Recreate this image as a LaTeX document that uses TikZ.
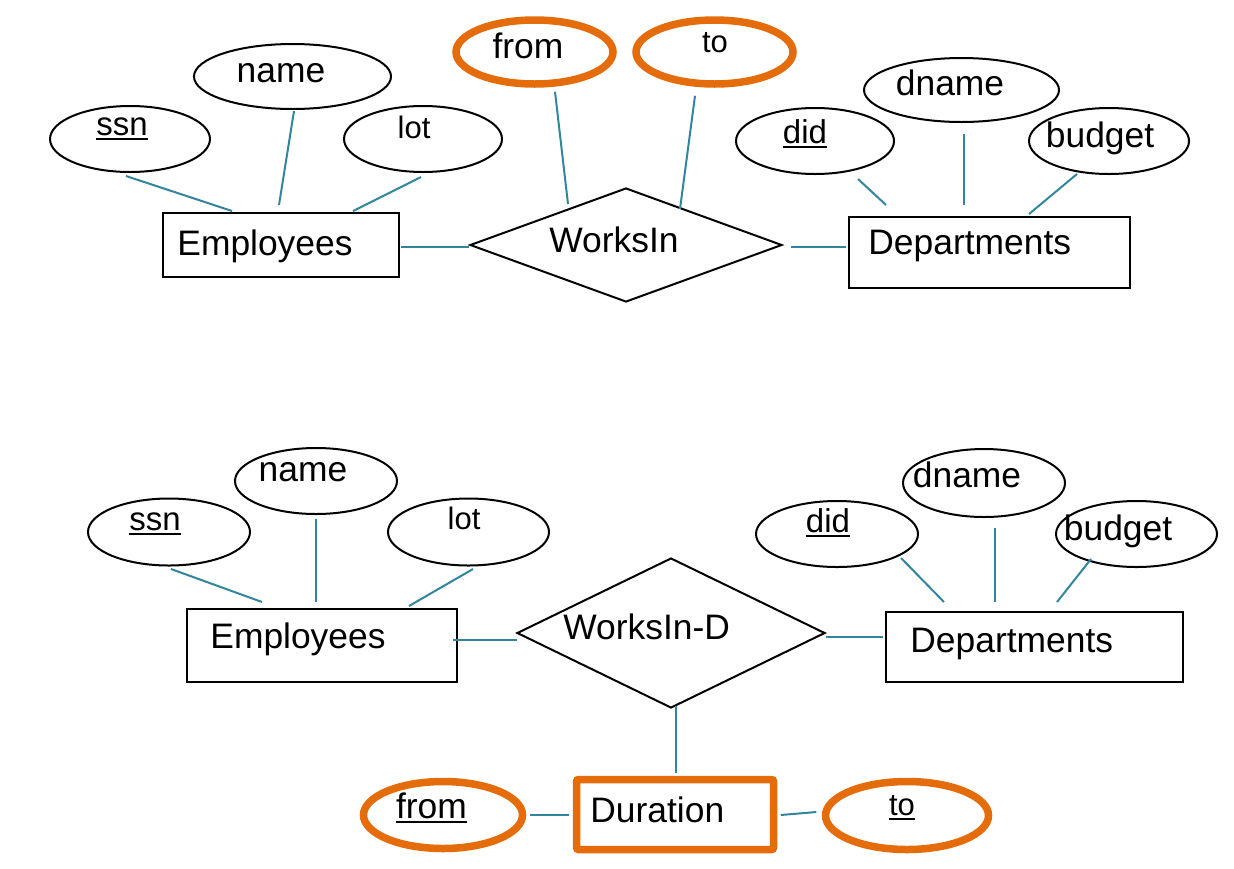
\documentclass[tikz,border=0pt]{standalone}
\usepackage{fontspec}
\setmainfont{Liberation Sans}
\usetikzlibrary{shapes.geometric}
\definecolor{linkc}{RGB}{49,133,156}
\definecolor{orng}{RGB}{228,108,10}
\newcommand{\ulkey}[1]{\setbox0\hbox{#1}\rlap{\rule[-2.25pt]{\wd0}{1pt}}\box0}
\begin{document}
\begin{tikzpicture}[x=0.5pt,y=-0.5pt,
  attr/.style={draw=black, line width=1pt, ellipse, inner sep=0pt},
  hlattr/.style={draw=orng, line width=3.75pt, ellipse, inner sep=0pt},
  ent/.style={draw=black, line width=1pt, rectangle, inner sep=0pt},
  hlent/.style={draw=orng, line width=3.75pt, rectangle, inner sep=0pt, rounded corners=1pt},
  rel/.style={draw=black, line width=1pt, diamond, inner sep=0pt},
  link/.style={draw=linkc, line width=1pt},
  big/.style={inner sep=0pt, font=\fontsize{17.7}{20}\selectfont},
  med/.style={inner sep=0pt, font=\fontsize{16.5}{19}\selectfont},
  sml/.style={inner sep=0pt, font=\fontsize{15.5}{18}\selectfont}]
\useasboundingbox (0,0) rectangle (1234,868);

% ---------- top diagram ----------
\node[attr, minimum width=80pt, minimum height=33pt] (ssn1) at (130,139) {};
\node[attr, minimum width=98.5pt, minimum height=32.5pt] (name1) at (292.5,76.5) {};
\node[attr, minimum width=79pt, minimum height=33pt] (lot1) at (423,139) {};
\node[hlattr, minimum width=78.5pt, minimum height=32pt] (from1) at (534.5,52) {};
\node[hlattr, minimum width=78.5pt, minimum height=32pt] (to1) at (714.5,52) {};
\node[attr, minimum width=79pt, minimum height=33pt] (did1) at (815,141) {};
\node[attr, minimum width=97.5pt, minimum height=32pt] (dname1) at (961.5,90) {};
\node[attr, minimum width=80pt, minimum height=33pt] (budget1) at (1109,141) {};
\node[ent, minimum width=118pt, minimum height=32pt] (emp1) at (281,245) {};
\node[rel, minimum width=156pt, minimum height=57pt] (rel1) at (626,245) {};
\node[ent, minimum width=140.5pt, minimum height=35.5pt] (dep1) at (989.5,252.5) {};

\node[med, anchor=base] (tssn1) at (122,135) {\ulkey{ssn}};
\node[big, anchor=base] (tname1) at (281,82) {name};
\node[sml, anchor=base] (tlot1) at (414,138) {lot};
\node[big, anchor=base] (tfrom1) at (528,58) {from};
\node[sml, anchor=base] (tto1) at (715,52) {to};
\node[med, anchor=base] (tdid1) at (805,143) {\ulkey{did}};
\node[big, anchor=base] (tdname1) at (950,95) {dname};
\node[big, anchor=base] (tbudget1) at (1100,147) {budget};
\node[big, anchor=base west] (temp1) at (177,255) {Employees};
\node[big, anchor=base] (trel1) at (614,252) {WorksIn};
\node[big, anchor=base west] (tdep1) at (868,254) {Departments};

\draw[link] ([shift={(-4,3)}]ssn1.south) -- ([shift={(70,-1)}]emp1.north west);
\draw[link] ([shift={(1.5,1)}]name1.south) -- ([shift={(-2,-7)}]emp1.north);
\draw[link] ([shift={(-2,4)}]lot1.south) -- ([shift={(-47,-1)}]emp1.north east);
\draw[link] ([shift={(1,2)}]emp1.east) -- ([shift={(0,2)}]rel1.west);
\draw[link] ([shift={(20.5,4)}]from1.south) -- ([shift={(-58,17)}]rel1.north);
\draw[link] ([shift={(-19.5,8)}]to1.south) -- ([shift={(54,22)}]rel1.north);
\draw[link] ([shift={(8,2)}]rel1.east) -- ([shift={(-2,-5.5)}]dep1.west);
\draw[link] ([shift={(43,4)}]did1.south) -- ([shift={(38,-11)}]dep1.north west);
\draw[link] ([shift={(2.5,11)}]dname1.south) -- ([shift={(-25.5,-11)}]dep1.north);
\draw[link] ([shift={(-32,-1)}]budget1.south) -- ([shift={(39.5,-2)}]dep1.north);

% ---------- bottom diagram ----------
\node[attr, minimum width=81pt, minimum height=33.5pt] (ssn2) at (169,532) {};
\node[attr, minimum width=81pt, minimum height=33pt] (name2) at (316,481) {};
\node[attr, minimum width=80.5pt, minimum height=33.5pt] (lot2) at (468.5,532) {};
\node[attr, minimum width=81pt, minimum height=33pt] (did2) at (837,534) {};
\node[attr, minimum width=81pt, minimum height=34pt] (dname2) at (984,483) {};
\node[attr, minimum width=80.5pt, minimum height=33pt] (budget2) at (1136.5,534) {};
\node[ent, minimum width=135pt, minimum height=36.5pt] (emp2) at (322,645.5) {};
\node[rel, minimum width=154pt, minimum height=75pt] (rel2) at (671,633) {};
\node[ent, minimum width=148.5pt, minimum height=35pt] (dep2) at (1034.5,647) {};
\node[hlent, minimum width=98.5pt, minimum height=35pt] (dur) at (675,814.5) {};
\node[hlattr, minimum width=79.5pt, minimum height=33.5pt] (from2) at (443,815) {};
\node[hlattr, minimum width=81.5pt, minimum height=34pt] (to2) at (907,815.5) {};

\node[med, anchor=base] (tssn2) at (155,530) {\ulkey{ssn}};
\node[big, anchor=base] (tname2) at (303,481) {name};
\node[sml, anchor=base] (tlot2) at (464,529) {lot};
\node[med, anchor=base] (tdid2) at (828,532) {\ulkey{did}};
\node[big, anchor=base] (tdname2) at (967,487) {dname};
\node[big, anchor=base] (tbudget2) at (1118,540) {budget};
\node[big, anchor=base west] (temp2) at (210,648) {Employees};
\node[big, anchor=base west] (trel2) at (563,639) {WorksIn-D};
\node[big, anchor=base west] (tdep2) at (910,652) {Departments};
\node[big, anchor=base west] (tdur) at (590,822) {Duration};
\node[big, anchor=base] (tfrom2) at (431.5,818) {\ulkey{from}};
\node[sml, anchor=base] (tto2) at (902,815) {\ulkey{to}};

\draw[link] ([shift={(2,2.5)}]ssn2.south) -- ([shift={(76,-6)}]emp2.north west);
\draw[link] ([shift={(0,4)}]name2.south) -- ([shift={(-6,-6)}]emp2.north);
\draw[link] ([shift={(4.5,2.5)}]lot2.south) -- ([shift={(-49,-2)}]emp2.north east);
\draw[link] ([shift={(-5,-5.5)}]emp2.east) -- ([shift={(1,7)}]rel2.west);
\draw[link] ([shift={(0,4)}]rel2.east) -- ([shift={(-2,-10)}]dep2.west);
\draw[link] ([shift={(-18,24)}]did2.east) -- ([shift={(59,-9)}]dep2.north west);
\draw[link] ([shift={(11,10)}]dname2.south) -- ([shift={(-39.5,-9)}]dep2.north);
\draw[link] ([shift={(-45.5,-9)}]budget2.south) -- ([shift={(22.5,-9)}]dep2.north);
\draw[link] ([shift={(5,-3)}]rel2.south) -- ([shift={(1,-3)}]dur.north);
\draw[link] ([shift={(3.5,0)}]from2.east) -- ([shift={(-3.5,0.5)}]dur.west);
\draw[link] ([shift={(3.5,0.5)}]dur.east) -- ([shift={(-5.5,-3.5)}]to2.west);
\end{tikzpicture}
\end{document}
